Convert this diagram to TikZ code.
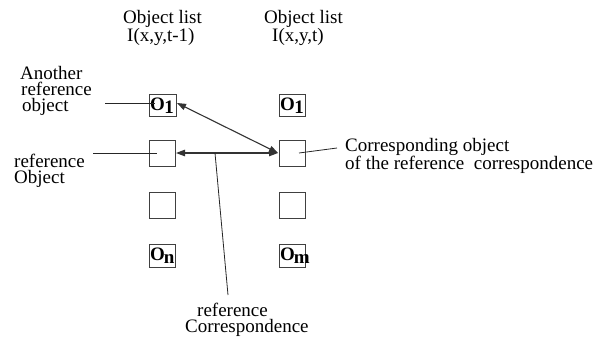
\documentclass[tikz,border=0pt]{standalone}
\usepackage{fontspec}
\setmainfont{Liberation Serif}
\usetikzlibrary{arrows.meta}
\begin{document}
\begin{tikzpicture}[x=1pt,y=-1pt,
  lbl/.style={font=\fontsize{19}{16}\selectfont, inner sep=0pt, anchor=north west},
  objbox/.style={draw=black!75, line width=0.9pt},
  ptr/.style={line width=0.8pt, draw=black!85},
  dbl/.style={line width=1.1pt, draw=black!80, {Triangle[length=9pt,width=6.5pt]}-{Triangle[length=9pt,width=6.5pt]}},
  sym/.style={font=\fontsize{19}{19}\selectfont\bfseries, inner sep=0pt, anchor=base west}]
\useasboundingbox (0,0) rectangle (599,341);
% titles
\node[lbl, align=left] (t1) at (123,10) {Object list\\\hspace*{4pt}I(x,y,t-1)};
\node[lbl, align=left] (t2) at (264,10) {Object list\\\hspace*{8pt}I(x,y,t)};
% boxes left
\draw[objbox] (149,94) rectangle (176,116);
\draw[objbox] (149,140) rectangle (175,166);
\draw[objbox] (149,192) rectangle (175,218);
\draw[objbox] (149,244) rectangle (175,267);
% boxes right
\draw[objbox] (279,94) rectangle (305,116);
\draw[objbox] (279,140) rectangle (305,166);
\draw[objbox] (279,192) rectangle (305,218);
\draw[objbox] (279,244) rectangle (305,267);
% symbols
\node[sym] (o1L) at (150,110) {O\kern-0.5pt\raisebox{-3pt}{1}};
\node[sym] (o1R) at (280,110) {O\kern-0.5pt\raisebox{-3pt}{1}};
\node[sym] (onL) at (150,260) {O\kern-1pt\raisebox{-3pt}{n}};
\node[sym] (omR) at (280,260) {O\kern-1pt\raisebox{-3pt}{m}};
% coordinates
\coordinate (o1E) at (177,103);
\coordinate (R2W) at (278,153);
\coordinate (L2E) at (176,153);
\coordinate (corr) at (215,153);
% arrows
\draw[dbl] (R2W) -- (L2E);
\draw[dbl] (o1E) -- (R2W);
% labels
\node[lbl, align=left] (an) at (20,66) {Another\\\hspace*{1pt}reference\\\hspace*{2pt}object};
\coordinate (anE) at (105,103);
\coordinate (o1in) at (155,103);
\draw[ptr] (anE) -- (o1in);
\node[lbl, align=left] (ro) at (14,154) {reference\\Object};
\coordinate (roE) at (93,153);
\coordinate (L2c) at (157,153);
\draw[ptr] (roE) -- (L2c);
\node[lbl, align=left] (co) at (345,138) {Corresponding object\\of the reference\ \ correspondence};
\coordinate (R2c) at (299,153);
\coordinate (coW) at (337,148);
\draw[ptr] (R2c) -- (coW);
\node[lbl, align=left] (rc) at (185,303) {\hspace*{12pt}reference\\Correspondence};
\coordinate (rcN) at (228,295);
\draw[ptr] (corr) -- (rcN);
\end{tikzpicture}
\end{document}
